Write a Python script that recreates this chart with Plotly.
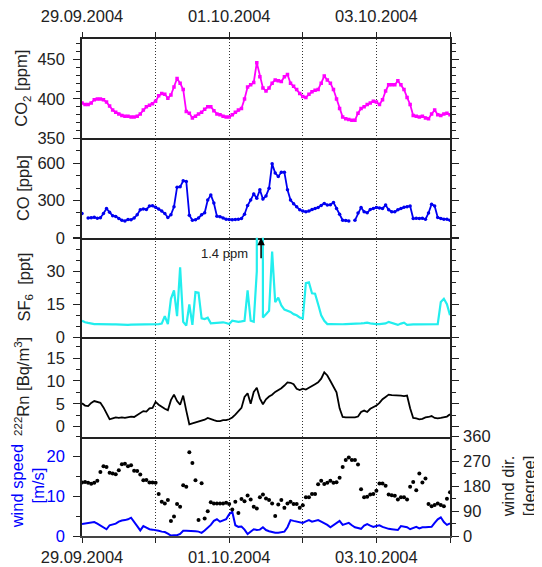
import pandas as pd
import plotly.graph_objects as go

start = "2004-09-29 00:00"
end = "2004-10-04 00:00"
times = pd.date_range(start, periods=121, freq="h")

co2 = [395, 393, 393, 395, 399, 400, 400, 399, 396, 391,
       386, 383, 381, 379, 378, 378, 377, 377, 378, 381,
       386, 390, 392, 394, 397, 404, 407, 406, 401, 405,
       415, 426, 420, 412, 384, 382, 376, 378, 381, 383,
       387, 390, 390, 385, 381, 380, 378, 377, 377, 380,
       383, 386, 388, 400, 415, 418, 421, 446, 428, 414,
       410, 414, 420, 424, 423, 422, 428, 431, 420, 416,
       412, 407, 403, 402, 406, 409, 411, 412, 420, 429,
       424, 420, 412, 400, 388, 377, 375, 374, 373, 373,
       382, 388, 390, 393, 395, 397, 396, 393, 399, 410,
       418, 418, 418, 423, 418, 412, 402, 393, 379, 378,
       377, 378, 376, 375, 381, 386, 380, 379, 381, 382,
       380]

co = [195, None, 160, 162, 165, 158, 162, 195, 236, 205,
      178, 172, 155, 141, 136, 147, 146, 160, 185, 225,
      232, 228, 255, 258, 245, 231, 215, 195, 163, 185,
      250, 407, 410, 459, 453, 182, 141, 145, 160, 185,
      201, 304, 345, 280, 174, 170, 160, 150, 147, 145,
      148, 150, 155, 190, 260, 304, 353, 318, 386, 312,
      337, 399, 595, 521, 494, 527, 527, 386, 304, 275,
      250, 225, 215, 209, 215, 228, 235, 244, 260, 277,
      263, 265, 285, 236, 190, 141, 140, 136, None, 141,
      200, 244, 210, 201, 228, 235, 244, 240, 236, 263,
      225, 209, 209, 225, 236, 245, 250, 255, 155, 158,
      155, 158, 149, 200, 271, 255, 163, 155, 150, 150,
      141]

sf6 = [7.5, 6.8, 6.5, 6.2, 6.0, 6.0, 5.9, 5.9, 5.8, 5.8,
       5.8, 5.8, 5.7, 5.7, 5.7, 5.6, 5.7, 5.7, 5.8, 5.8,
       5.9, 5.9, 6.0, 6.0, 6.0, 6.0, 6.2, 9.6, 6.0, 17.5,
       21.3, 9.6, 31.8, 7.0, 5.3, 15.0, 5.6, 20.6, 20.3, 8.6,
       8.3, 8.9, 6.3, 6.5, 6.7, 6.9, 6.8, 6.5, 6.0, 7.5,
       7.3, 7.0, 7.2, 7.5, 21.3, 7.5, 7.0, 30.0, 1400, 9.0,
       10.5, 12.0, 39.0, 16.0, 18.0, 14.5, 12.6, 12.0, 11.5, 10.5,
       10.0, 9.0, 8.5, 24.6, 25.0, 20.0, 19.8, 15.0, 10.0, 7.5,
       6.0, 6.0, 5.9, 5.9, 5.9, 5.9, 6.0, 6.0, 6.0, 6.1,
       6.2, 6.3, 6.4, 6.6, 6.3, 6.0, 6.0, 6.0, 6.1, 6.3,
       7.0, 6.6, 6.0, 5.6, 6.2, 6.6, 5.6, 5.8, 5.8, 5.8,
       5.8, 5.8, 5.8, 5.8, 5.8, 5.9, 5.9, 16.0, 17.5, 15.0,
       10.0]

rn = [5.1, 4.6, 4.5, 5.2, 5.6, 5.4, 5.2, 4.2, 2.8, 1.6,
      1.8, 2.0, 1.9, 2.0, 1.9, 2.0, 2.2, 2.1, 2.5, 3.0,
      3.4, 3.3, 4.0, 4.1, 5.4, 4.8, 4.3, 3.9, 3.6, 5.8,
      7.0, 5.6, 4.8, 6.8, 3.5, 0.5, 0.7, 0.9, 1.1, 1.3,
      1.5, 1.9, 1.6, 1.4, 1.2, 1.2, 1.4, 1.4, 1.6, 2.0,
      2.6, 3.4, 4.1, 6.5, 7.3, 5.0, 7.6, 8.5, 6.2, 4.9,
      6.0, 6.6, 7.0, 7.6, 8.0, 8.4, 9.0, 9.7, 9.6, 9.3,
      8.3, 8.0, 8.3, 8.1, 8.5, 9.0, 9.3, 9.7, 10.5, 11.9,
      11.2, 10.0, 8.8, 7.5, 4.0, 2.1, 2.0, 2.0, 2.1, 2.0,
      2.2, 3.2, 3.5, 3.2, 3.9, 4.2, 4.6, 5.2, 6.0, 6.5,
      7.0, 6.9, 6.9, 6.8, 6.8, 6.7, 6.8, 4.0, 1.9, 1.8,
      1.6, 1.7, 2.0, 2.1, 2.3, 1.9, 1.8, 1.9, 2.0, 2.2,
      2.7]

wind_speed = [3.0, 3.1, 3.2, 3.4, 3.5, 3.1, 2.6, 2.3, 1.7, 2.7,
              2.9, 3.1, 3.6, 3.9, 4.0, 4.2, 4.6, 3.4, 2.5, 1.4,
              2.5, 2.1, 1.7, 1.6, 1.5, 1.3, 1.1, 1.0, 0.6, 0.1,
              0.2, 0.2, 0.5, 1.3, 1.3, 1.3, 1.3, 1.2, 1.1, 0.8,
              1.4, 2.0, 2.8, 3.8, 4.2, 3.6, 3.9, 4.2, 5.5, 6.1,
              2.7, 2.3, 2.4, 1.6, 0.5, 1.2, 1.7, 1.5, 1.6, 2.2,
              1.5, 1.2, 0.9, 0.8, 0.8, 0.9, 1.1, 2.2, 4.0, 3.8,
              3.6, 3.4, 3.3, 3.7, 4.0, 3.6, 3.8, 4.0, 3.6, 3.3,
              2.8, 2.2, 2.8, 3.3, 3.8, 2.8, 3.0, 3.3, 2.7, 2.2,
              2.0, 1.8, 2.6, 3.0, 2.6, 2.3, 2.5, 2.7, 2.3, 2.0,
              1.8, 1.7, 1.6, 1.5, 2.5, 2.3, 2.2, 1.7, 2.0, 2.3,
              1.9, 2.2, 2.2, 2.2, 2.3, 3.3, 4.2, 4.7, 3.5, 2.8,
              3.2]

wind_dir = [194, 196, 193, 189, 193, 200, 232, 253, 250, 229,
            226, 224, 238, 260, 262, 253, 256, 236, 235, 223,
            202, 203, 194, 194, 193, 152, 124, 118, 130, 54,
            71, 116, 106, 184, 178, 303, 264, 202, 58, 191,
            63, 90, 122, 118, 118, 118, 118, 120, 116, 96,
            124, 83, 134, 126, 147, 132, 106, 100, 140, 150,
            136, 130, 118, 72, 114, 130, 102, 118, 124, 116,
            116, 102, 111, 140, 140, 152, 152, 187, 200, 188,
            193, 200, 193, 195, 211, 250, 275, 284, 275, 275,
            259, 169, 140, 142, 150, 152, 164, 190, 190, 182,
            150, 148, 146, 132, 140, 140, 132, 178, 196, 166,
            226, 194, 208, 116, 108, 112, 118, 112, 108, 135,
            158]

FONT = "Liberation Sans, Arial, sans-serif"
INK = "#222222"
DAY = 86400000
GRID_DASH = "1px,2px"

fig = go.Figure()
fig.add_trace(go.Scatter(x=times, y=co2, mode="lines+markers", xaxis="x", yaxis="y",
                         line=dict(color="#FF00FF", width=1.8),
                         marker=dict(symbol="square", size=3.5, color="#FF00FF")))
fig.add_trace(go.Scatter(x=times, y=co, mode="lines+markers", xaxis="x2", yaxis="y2",
                         line=dict(color="#0000F0", width=1.8),
                         marker=dict(size=3.5, color="#0000F0")))
fig.add_trace(go.Scatter(x=times, y=sf6, mode="lines", xaxis="x3", yaxis="y3",
                         line=dict(color="#22EEEE", width=2.2)))
fig.add_trace(go.Scatter(x=times, y=rn, mode="lines", xaxis="x4", yaxis="y4",
                         line=dict(color="#000000", width=1.8)))
fig.add_trace(go.Scatter(x=times, y=wind_speed, mode="lines", xaxis="x5", yaxis="y5",
                         line=dict(color="#0000FF", width=2)))
fig.add_trace(go.Scatter(x=times, y=wind_dir, mode="markers", xaxis="x5", yaxis="y6",
                         marker=dict(size=4, color="#000000")))

tickfont = dict(family=FONT, size=16.5, color=INK)


def xax(anchor, labels, side="bottom", mirror=False, standoff=3, linecolor=INK, linewidth=1.5):
    d = dict(type="date", range=[start, end], anchor=anchor, automargin=False,
             showline=True, linecolor=linecolor, linewidth=linewidth, mirror=mirror,
             showgrid=True, gridcolor="#333333", gridwidth=1, griddash=GRID_DASH,
             tick0=start, dtick=2 * DAY, tickformat="%d.%m.%Y",
             zeroline=False, tickfont=tickfont, side=side,
             minor=dict(tick0=start, dtick=DAY, showgrid=True, gridcolor="#333333",
                        gridwidth=1, griddash=GRID_DASH))
    if labels:
        d.update(ticks="outside", ticklen=5, tickwidth=1.2, tickcolor=INK,
                 showticklabels=True, ticklabelstandoff=standoff)
        d["minor"].update(ticks="outside", ticklen=5, tickwidth=1.2, tickcolor=INK)
    else:
        d.update(ticks="", showticklabels=False)
    return d


def yax(anchor, domain, rng, dtick, minor, **kw):
    d = dict(anchor=anchor, domain=domain, range=rng, dtick=dtick, tick0=0,
             automargin=False,
             showline=True, linecolor=INK, linewidth=1.5, mirror="ticks",
             ticks="outside", ticklen=7, tickwidth=1.2, tickcolor=INK,
             ticklabelstandoff=5,
             showgrid=False, zeroline=False, tickfont=tickfont,
             minor=dict(dtick=minor, tick0=0, ticks="outside", ticklen=4,
                        tickwidth=1.2, tickcolor=INK, showgrid=False))
    d.update(kw)
    return d


# the page adds an 8px body margin, so the figure is 8px smaller on each side used
fig.update_layout(
    width=534, height=559,
    margin=dict(l=74, r=92, t=31, b=31),
    paper_bgcolor="white", plot_bgcolor="white",
    showlegend=False,
    font=dict(family=FONT, size=16, color=INK),
    xaxis=xax("y", True, side="top", mirror=True, standoff=4),
    xaxis2=xax("y2", False),
    xaxis3=xax("y3", False),
    xaxis4=xax("y4", False),
    xaxis5=xax("y5", True, standoff=0, linecolor="#444444", linewidth=2),
    yaxis=yax("x", [0.8, 1.0], [350, 476], 50, 10),
    yaxis2=yax("x2", [0.6, 0.8], [0, 800], 300, 100),
    yaxis3=yax("x3", [0.4, 0.6], [0, 45.3], 15, 5,
               tickmode="array", tickvals=[0, 15, 30, 45], ticktext=["0", "15", "30", " "]),
    yaxis4=yax("x4", [0.2, 0.4], [-2.2, 19.6], 5, 2.5),
    yaxis5=yax("x5", [0.0, 0.2], [0, 25], 10, 5, mirror=False,
               tickfont=dict(family=FONT, size=16.5, color="#0000FF")),
    yaxis6=yax("x5", [0.0, 0.2], [0, 360], 90, 45, overlaying="y5", side="right",
               mirror=False, ticklabelstandoff=1),
)

W = 368.0


def px(x):
    return (x - 82) / W


titles = [
    ("CO<sub>2</sub> [ppm]", px(22), 0.9, INK),
    ("CO [ppb]", px(23), 0.7, INK),
    ("SF<sub>6</sub>  [ppt]", px(24), 0.5, INK),
    ("<sup>222</sup>Rn [Bq/m<sup>3</sup>]", px(22), 0.3, INK),
    ("wind speed<br>[m/s]", px(27), 0.1, "#0000FF"),
    ("wind dir.<br>[degree]", px(518), 0.1, INK),
]
for text, x, y, col in titles:
    fig.add_annotation(text=text, xref="paper", yref="paper", x=x, y=y,
                       xanchor="center", yanchor="middle", textangle=-90,
                       showarrow=False, font=dict(family=FONT, size=16.5, color=col))

fig.add_annotation(text="1.4 ppm", xref="x3", yref="y3", x="2004-09-30 22:36", y=38,
                   showarrow=False, font=dict(family=FONT, size=13, color=INK))
fig.add_annotation(text="", xref="x3", yref="y3", x="2004-10-01 10:24", y=45.3,
                   showarrow=True, ax=0, ay=22, arrowhead=2, arrowsize=1,
                   arrowwidth=1.5, arrowcolor="#000000", standoff=0)

fig.write_html("out.html")
